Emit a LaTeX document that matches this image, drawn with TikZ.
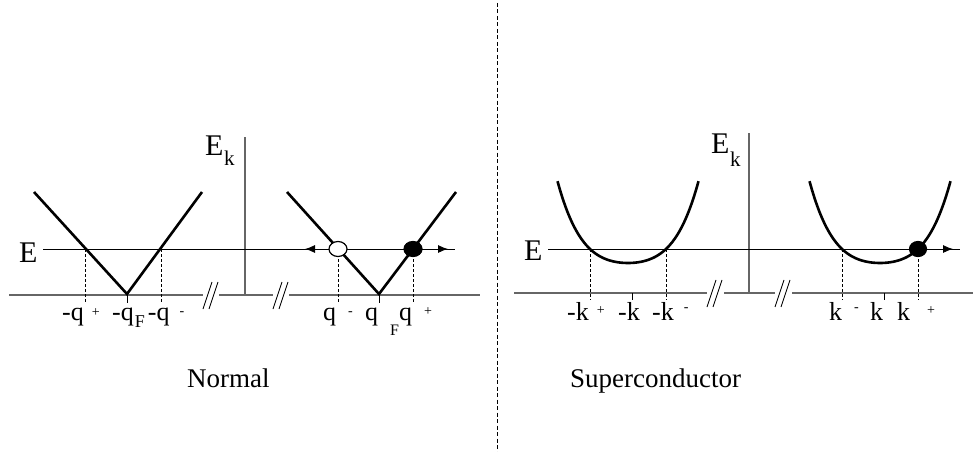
\documentclass[tikz,border=0pt]{standalone}
\usepackage{fontspec}
\setmainfont{Liberation Serif}
\usetikzlibrary{arrows.meta}
\usetikzlibrary{shapes.geometric}

\newcommand{\upmark}[3]{\hspace{#1pt}\raisebox{#2pt}{\fontsize{14}{14}\selectfont #3}}
\newcommand{\downmark}[4]{\hspace{#1pt}\raisebox{-#2pt}{\fontsize{#3}{#3}\selectfont #4}}

\begin{document}
\begin{tikzpicture}[
    x=1pt, y=-1pt,
    axis/.style={draw=black!60,line width=1.1pt},
    level/.style={line width=0.9pt},
    band/.style={line width=2.6pt,line join=miter},
    guide/.style={dash pattern=on 3pt off 2pt,line width=0.8pt},
    tick/.style={line width=0.8pt},
    brk/.style={line width=0.9pt},
    sep/.style={dash pattern=on 4pt off 2.5pt,line width=1pt},
    dot/.style={ellipse,draw,line width=1.2pt,inner sep=0pt,minimum width=18pt,minimum height=15pt},
    arrow/.style={-{Latex[length=10pt,width=8pt]},line width=0.9pt},
    lab/.style={anchor=base west,inner sep=0pt,font=\fontsize{26}{30}\selectfont},
    big/.style={anchor=base west,inner sep=0pt,font=\fontsize{30}{34}\selectfont},
    title/.style={anchor=base west,inner sep=0pt,font=\fontsize{27}{32}\selectfont}
]
\useasboundingbox (0,0) rectangle (974,452);

% normal metal
\draw[axis] (9,295) -- (203,295) (219,295) -- (273,295) (289,295) -- (480,295);
\draw[brk] (203,309) -- (212,282) (209,309) -- (218,282);
\draw[brk] (273,309) -- (282,282) (279,309) -- (288,282);
\draw[axis] (245,137) -- (245,295);
\draw[level] (43,249) -- (455,249);
\draw[band] (34,192) -- (127,294) -- (202,192);
\draw[band] (287,192) -- (379,294) -- (456,192);

\coordinate (nA) at (85,249);   \coordinate (nAt) at (85,303);
\coordinate (nB) at (161,249);  \coordinate (nBt) at (161,303);
\coordinate (nC) at (338,249);  \coordinate (nCt) at (338,303);
\coordinate (nD) at (413,249);  \coordinate (nDt) at (413,303);
\draw[guide] (nA) -- (nAt);
\draw[guide] (nB) -- (nBt);
\draw[guide] (nC) -- (nCt);
\draw[guide] (nD) -- (nDt);
\draw[tick] (127,295) -- (127,303);
\draw[tick] (379,295) -- (379,303);

\node[dot,fill=white] (hole) at (nC) {};
\node[dot,fill=black] (elec) at (nD) {};
\coordinate (nLt) at (305,249);
\coordinate (nRt) at (448,249);
\draw[arrow] (hole.west) -- (nLt);
\draw[arrow] (elec.east) -- (nRt);

\node[big] (nE) at (19,262) {E};
\node[big] (nEk) at (205,155) {E\downmark{0.5}{10}{21}{k}};
\node[lab] (qpl) at (62,320) {-q\upmark{8}{3.5}{+}};
\node[lab] (qfl) at (112,320) {-q\downmark{1}{7}{18}{F}\hspace{3pt}-q\upmark{10}{5}{-}};
\node[lab] (qmr) at (323,320) {q\upmark{12}{5}{-}};
\node[lab] (qfr) at (365,320) {q\downmark{12}{15}{16}{F}q\upmark{12}{5}{+}};
\node[title] (normal) at (187,387) {Normal};

\draw[sep] (497,3) -- (497,452);

% superconductor
\draw[axis] (514,293) -- (707,293) (724,293) -- (775,293) (792,293) -- (973,293);
\draw[brk] (707,307) -- (716,280) (713,307) -- (722,280);
\draw[brk] (775,307) -- (784,280) (781,307) -- (790,280);
\draw[axis] (749,133) -- (749,293);
\draw[level] (548,249) -- (960,249);
\draw[band] plot[domain=-70.5:70.5,samples=60,smooth] ({628+\x},{263-10*pow(\x/38,2)-4*pow(\x/38,4)});
\draw[band] plot[domain=-70.5:70.5,samples=60,smooth] ({880+\x},{263-10*pow(\x/38,2)-4*pow(\x/38,4)});

\coordinate (sA) at (590,249);  \coordinate (sAt) at (590,300);
\coordinate (sB) at (666,249);  \coordinate (sBt) at (666,300);
\coordinate (sC) at (842,249);  \coordinate (sCt) at (842,300);
\coordinate (sD) at (918,249);  \coordinate (sDt) at (918,300);
\draw[guide] (sA) -- (sAt);
\draw[guide] (sB) -- (sBt);
\draw[guide] (sC) -- (sCt);
\draw[guide] (sD) -- (sDt);
\draw[tick] (632,293) -- (632,300);
\draw[tick] (884,293) -- (884,300);

\node[dot,fill=black,minimum width=17pt] (quasi) at (sD) {};
\coordinate (sRt) at (953,249);
\draw[arrow] (quasi.east) -- (sRt);

\node[big] (sE) at (524,260) {E};
\node[big] (sEk) at (711,153) {E\downmark{0.5}{13}{21}{k}};
\node[lab] (kpl) at (567,320) {-k\upmark{8}{5.5}{+}};
\node[lab] (kfl) at (618,320) {-k};
\node[lab] (kml) at (652,320) {-k\upmark{10}{9}{-}};
\node[lab] (kmr) at (829,320) {k\upmark{12}{9}{-}};
\node[lab] (kfr) at (870,320) {k};
\node[lab] (kpr) at (897,320) {k\upmark{17}{5.5}{+}};
\node[title] (superc) at (570,387) {Superconductor};
\end{tikzpicture}
\end{document}
